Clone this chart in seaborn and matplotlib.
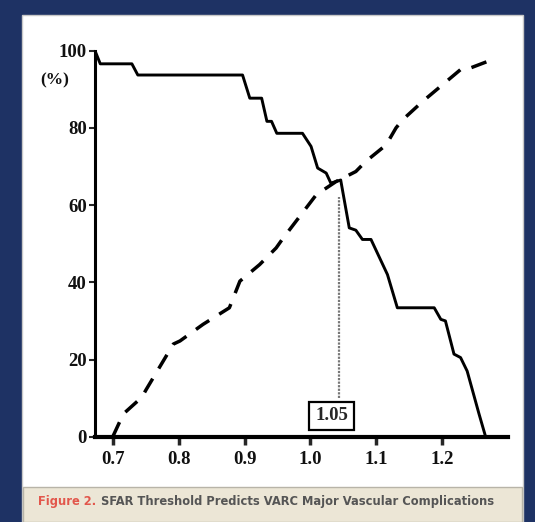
import matplotlib
matplotlib.use('Agg')
import numpy as np
import pandas as pd
import matplotlib.pyplot as plt
import matplotlib.patches as mpatches
import seaborn as sns

sns.set_theme(style="white")
plt.rcParams['font.family'] = ['Liberation Serif', 'DejaVu Serif']

# ==========================================
# Data
# ==========================================
# solid curve (falls with threshold)
solid_x = [0.673, 0.681, 0.729, 0.738, 0.897, 0.908, 0.926, 0.934, 0.941, 0.949,
           0.988, 1.001, 1.011, 1.024, 1.031, 1.046, 1.059, 1.069, 1.079, 1.092,
           1.117, 1.132, 1.188, 1.198, 1.205, 1.218, 1.228, 1.238, 1.256, 1.266]
solid_y = [100, 96.6, 96.6, 93.7, 93.7, 87.7, 87.7, 81.7, 81.7, 78.6,
           78.6, 75.2, 69.6, 68.3, 65.7, 66.5, 54.1, 53.5, 51.1, 51.1,
           42.0, 33.4, 33.4, 30.4, 30.0, 21.4, 20.5, 17.0, 5.9, 0.0]

# dashed curve (rises with threshold)
dash_x = [0.700, 0.716, 0.744, 0.751, 0.792, 0.802, 0.837, 0.877, 0.893, 0.923,
          0.948, 0.958, 1.009, 1.039, 1.069, 1.084, 1.115, 1.130, 1.140, 1.170,
          1.200, 1.230, 1.241, 1.281]
dash_y = [0.0, 5.9, 10.2, 12.3, 24.0, 24.8, 29.1, 33.4, 40.3, 44.6,
          48.9, 51.3, 62.7, 66.1, 68.7, 71.3, 75.6, 80.0, 82.1, 86.8,
          91.1, 95.4, 95.4, 98.0]

x_ticks = [0.7, 0.8, 0.9, 1.0, 1.1, 1.2]
y_ticks = [0, 20, 40, 60, 80, 100]
threshold = 1.043
threshold_label = "1.05"
caption_red = "Figure 2."
caption_rest = "SFAR Threshold Predicts VARC Major Vascular Complications"

solid_df = pd.DataFrame({"x": solid_x, "y": solid_y})
dash_df = pd.DataFrame({"x": dash_x, "y": dash_y})

# ==========================================
# Figure frame (navy page, white panel, caption band)
# ==========================================
fig = plt.figure(figsize=(5.35, 5.22), dpi=100)
fig.patch.set_facecolor("#1e3264")

panel = mpatches.Rectangle((22 / 535, 0), (523 - 22) / 535, 1 - 15 / 522,
                           transform=fig.transFigure, facecolor="white",
                           edgecolor="#c8c8c8", linewidth=1.0, zorder=0)
fig.add_artist(panel)
band = mpatches.Rectangle((23 / 535, 0), (522 - 23) / 535, 1 - 487 / 522,
                          transform=fig.transFigure, facecolor="#ece6d6",
                          edgecolor="#b8b4a8", linewidth=1.0, zorder=0)
fig.add_artist(band)

ax = fig.add_axes([95 / 535, 1 - 436.7 / 522, (508 - 95) / 535, (436.7 - 50.7) / 522])
ax.set_facecolor("none")

sns.lineplot(data=solid_df, x="x", y="y", ax=ax, color="black", linewidth=2.1,
             sort=False, estimator=None)
sns.lineplot(data=dash_df, x="x", y="y", ax=ax, color="black", linewidth=2.5,
             sort=False, estimator=None, dashes=False)
ax.lines[-1].set_dashes((4.6, 3.4))

# threshold marker
ax.vlines(threshold, 10, 62, color="#777777", linewidth=1.6, linestyles=(0, (1, 0.6)))
ax.text(threshold - 0.011, 5.4, threshold_label, ha="center", va="center",
        fontsize=13.5, fontweight="bold",
        bbox=dict(boxstyle="square,pad=0.3", facecolor="white",
                  edgecolor="black", linewidth=1.6))

ax.set_xlim(0.673, 1.30)
ax.set_ylim(0, 100)
ax.set_xticks(x_ticks)
ax.set_xticklabels([f"{v:.1f}" for v in x_ticks])
ax.set_yticks(y_ticks)
ax.set_xlabel("")
ax.set_ylabel("")

for s in ["top", "right"]:
    ax.spines[s].set_visible(False)
ax.spines["left"].set_linewidth(2.2)
ax.spines["bottom"].set_linewidth(3.0)
ax.spines["left"].set_color("black")
ax.spines["bottom"].set_color("black")

ax.tick_params(axis="x", direction="out", length=6, width=2.5, pad=4,
               labelsize=13.5, bottom=True)
ax.tick_params(axis="y", direction="out", length=4, width=1.5, pad=2,
               labelsize=13.5, left=True)
for lab in ax.get_xticklabels() + ax.get_yticklabels():
    lab.set_fontweight("bold")
    lab.set_color("#111111")

fig.text(55 / 535, 1 - 80 / 522, "(%)", ha="center", va="center",
         fontsize=12.5, fontweight="bold", color="#111111")

# caption
t1 = fig.text(38 / 535, 1 - 502 / 522, caption_red, ha="left", va="center",
              fontsize=8.3, fontweight="bold", color="#e2574c",
              family=["DejaVu Sans"])
fig.canvas.draw()
bb = t1.get_window_extent()
fig.text((bb.x1 + 5) / 535, 1 - 502 / 522, caption_rest, ha="left", va="center",
         fontsize=8.3, fontweight="bold", color="#555555",
         family=["DejaVu Sans"])

fig.savefig("out.png", dpi=100, facecolor=fig.get_facecolor())
